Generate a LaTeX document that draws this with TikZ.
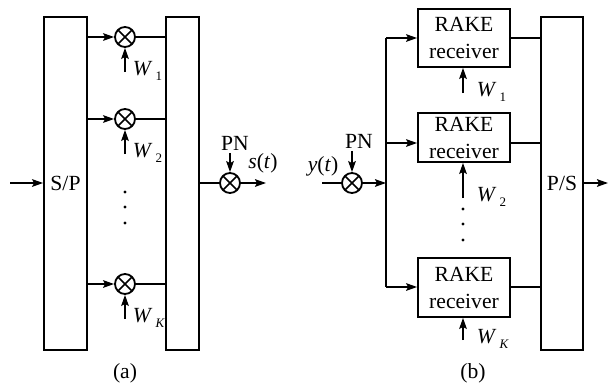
\documentclass[tikz,border=0pt]{standalone}
\usepackage{fontspec}
\setmainfont{Liberation Serif}
\usetikzlibrary{arrows.meta,positioning,calc}
\newcommand{\wlab}[1]{\textit{W}\kern1.5pt\raisebox{-2.5pt}{\fontsize{6.5}{6.5}\selectfont #1}}

\begin{document}
\begin{tikzpicture}[x=0.5pt,y=-0.5pt,line width=0.9pt,
  >={Stealth[length=5.5pt,width=3.8pt,inset=1pt]},
  every node/.style={font=\fontsize{10.8}{13.5}\selectfont},
  tallbox/.style={draw,inner sep=0pt,minimum height=166.5pt},
  rakebox/.style={draw,inner sep=0pt,minimum width=46pt,align=center},
  mult/.style={draw,circle,inner sep=0pt,minimum size=10pt,
    path picture={\draw[line width=0.8pt] (path picture bounding box.north west) -- (path picture bounding box.south east)
      (path picture bounding box.north east) -- (path picture bounding box.south west);}},
  wtag/.style={anchor=base west,inner sep=0pt},
  dotmark/.style={fill=black}]
\useasboundingbox (0,0) rectangle (610,386);

% (a) transmitter
\node[tallbox,minimum width=21.5pt] (sp) at (65.5,183.5) {S/P};
\node[tallbox,minimum width=16.5pt] (comb) at (182.5,183.5) {};
\coordinate (ain) at (10,183);
\draw[->] (ain) -- (ain -| sp.west);
\foreach \i/\y/\k in {1/37/1,2/119/2,3/284/\textit{K}} {
  \node[mult] (m\i) at (125,\y) {};
  \draw[->] (m\i -| sp.east) -- (m\i);
  \draw (m\i) -- (m\i -| comb.west);
  \coordinate (wa\i) at (125,\y+35);
  \draw[->] (wa\i) -- (m\i);
  \node[wtag] (wla\i) at (132,\y+38) {\wlab{\k}};
}
\foreach \y in {192,207,223} \fill[dotmark] (125,\y) circle (0.8pt);
\node[mult] (mo) at (230,183) {};
\draw (comb.east |- mo) -- (mo);
\coordinate (sout) at (266,183);
\draw[->] (mo) -- (sout);
\node[inner sep=1pt] (pna) at (235,143) {PN};
\draw[->] (mo |- pna.south) -- (mo);
\node (stl) at (263,163) {\textit{s}(\textit{t})};
\node (capa) at (125,373) {(a)};

% (b) receiver
\node[mult] (mi) at (352,183) {};
\coordinate (bin) at (322,183);
\draw (bin) -- (mi);
\node (ytl) at (323,166) {\textit{y}(\textit{t})};
\node[inner sep=1pt] (pnb) at (359,141) {PN};
\draw[->] (mi |- pnb.south) -- (mi);
\coordinate (bus) at (386,183);
\draw[->] (mi) -- (bus);
\node[rakebox,minimum height=29pt] (r1) at (464,38) {RAKE\\receiver};
\node[rakebox,minimum height=24.5pt] (r2) at (464,137.5) {RAKE\\receiver};
\node[rakebox,minimum height=29.5pt] (r3) at (464,287.5) {RAKE\\receiver};
\node[tallbox,minimum width=21pt] (ps) at (562,183.5) {P/S};
\coordinate (b1) at (386,38);
\coordinate (b2) at (386,143);
\coordinate (b3) at (386,287);
\draw (b1) -- (b3);
\foreach \i in {1,2,3} {
  \draw[->] (b\i) -- (b\i -| r\i.west);
  \draw (b\i -| r\i.east) -- (b\i -| ps.west);
}
\coordinate (wb1) at (463,93);
\coordinate (wb2) at (463,198);
\coordinate (wb3) at (463,340);
\foreach \i/\k in {1/1,2/2,3/\textit{K}} {
  \draw[->] (wb\i) -- (wb\i |- r\i.south);
  \node[wtag] (wlb\i) at ($(wb\i)+(13,3)$) {\wlab{\k}};
}
\foreach \y in {209,224,240} \fill[dotmark] (463,\y) circle (0.8pt);
\coordinate (bout) at (608,183);
\draw[->] (bout -| ps.east) -- (bout);
\node (capb) at (473,373) {(b)};
\end{tikzpicture}
\end{document}
